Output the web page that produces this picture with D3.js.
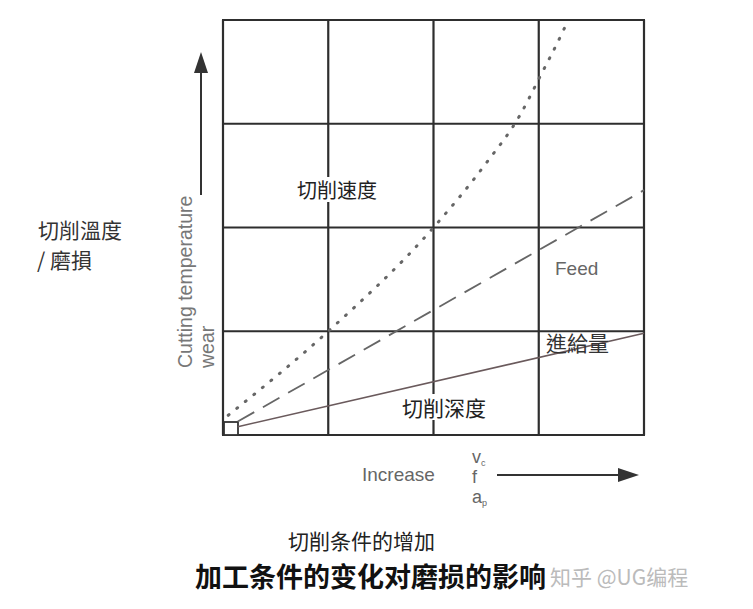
<!DOCTYPE html>
<html>
<head>
<meta charset="utf-8">
<script src="https://cdn.jsdelivr.net/npm/d3@7/dist/d3.min.js"></script>
<style>
  html, body { margin: 0; padding: 0; background: #fff; }
  svg { display: block; }
</style>
</head>
<body>
<svg id="chart" width="753" height="609"></svg>
<script>
// ---- data (grid units: 4 x 4 cells) ----
const gridX = [0, 1, 2, 3, 4];
const gridY = [0, 1, 2, 3, 4];
// cutting speed (dotted, curving upward)
const speedX = [0.05, 1.0, 2.0, 2.5, 2.82, 3.01, 3.22, 3.28];
const speedY = [0.19, 1.0, 2.0, 2.62, 3.08, 3.45, 3.87, 4.0];
// feed (dashed, straight)
const feedX = [0.14, 4.0];
const feedY = [0.13, 2.36];
// depth of cut (solid, straight)
const depthX = [0.14, 4.0];
const depthY = [0.08, 0.98];
// increase labels
const incLabels = [["v", "c"], ["f", ""], ["a", "p"]];

const svg = d3.select("#chart");
const x = d3.scaleLinear().domain([0, 4]).range([223, 644]);
const y = d3.scaleLinear().domain([0, 4]).range([435, 20]);

const cjk = "'Noto Sans CJK SC', 'Noto Sans CJK TC', sans-serif";
const cjkTC = "'Noto Sans CJK TC', 'Noto Sans CJK SC', sans-serif";
const latin = "'Liberation Sans', Arial, sans-serif";

// grid
const g = svg.append("g");
g.selectAll("line.v").data(gridX).enter().append("line")
  .attr("x1", d => x(d)).attr("x2", d => x(d))
  .attr("y1", y(0)).attr("y2", y(4))
  .attr("stroke", "#2e2e2e").attr("stroke-width", 2.2);
g.selectAll("line.h").data(gridY).enter().append("line")
  .attr("y1", d => y(d)).attr("y2", d => y(d))
  .attr("x1", x(0) - 1).attr("x2", x(4) + 1)
  .attr("stroke", "#2e2e2e").attr("stroke-width", 2.2);

// origin square
g.append("rect")
  .attr("x", x(0) + 1).attr("y", y(0) - 13)
  .attr("width", 14).attr("height", 13)
  .attr("fill", "#fff").attr("stroke", "#333").attr("stroke-width", 1.8);

const line = d3.line().x(d => x(d[0])).y(d => y(d[1]));

// depth (solid)
g.append("path")
  .datum(d3.zip(depthX, depthY))
  .attr("d", line)
  .attr("fill", "none").attr("stroke", "#6a5a5c").attr("stroke-width", 1.6);

// feed (dashed)
g.append("path")
  .datum(d3.zip(feedX, feedY))
  .attr("d", line)
  .attr("fill", "none").attr("stroke", "#666").attr("stroke-width", 1.8)
  .attr("stroke-dasharray", "19,10");

// speed (dotted)
g.append("path")
  .datum(d3.zip(speedX, speedY))
  .attr("d", line.curve(d3.curveMonotoneX))
  .attr("fill", "none").attr("stroke", "#666").attr("stroke-width", 3)
  .attr("stroke-linecap", "round")
  .attr("stroke-dasharray", "1,10");

// in-plot labels
function label(txt, px, py, size, color, font, bg) {
  const t = svg.append("text")
    .attr("x", px).attr("y", py)
    .attr("font-family", font).attr("font-size", size)
    .attr("fill", color).text(txt);
  if (bg) {
    const b = t.node().getBBox();
    svg.insert("rect", "text")
      .attr("x", b.x - 2).attr("y", b.y + 2).attr("width", b.width + 4).attr("height", b.height - 4)
      .attr("fill", "#fff");
  }
  return t;
}
label("切削速度", 297, 198, 20, "#222", cjk, true);
label("Feed", 555, 275, 19, "#666", latin, false);
label("進給量", 546, 351, 21, "#333", cjkTC, false);
label("切削深度", 402, 416, 21, "#222", cjk, true);

// y axis arrow
svg.append("line").attr("x1", 201).attr("x2", 201).attr("y1", 195).attr("y2", 68)
  .attr("stroke", "#333").attr("stroke-width", 2);
svg.append("path").attr("d", "M201,52 L194,73 L208,73 Z").attr("fill", "#333");

// rotated axis text
svg.append("text")
  .attr("transform", "translate(192,368) rotate(-90)")
  .attr("font-family", latin).attr("font-size", 19.5).attr("fill", "#777")
  .text("Cutting temperature");
svg.append("text")
  .attr("transform", "translate(214,368) rotate(-90)")
  .attr("font-family", latin).attr("font-size", 19.5).attr("fill", "#777")
  .text("wear");

// left Chinese label
label("切削溫度", 38, 238, 21, "#333", cjkTC, false);
label("/ 磨損", 37, 268, 21, "#333", cjkTC, false);

// bottom increase
label("Increase", 362, 481, 19, "#666", latin, false);
const inc = svg.append("g");
incLabels.forEach((l, i) => {
  const t = inc.append("text")
    .attr("x", 472).attr("y", 463 + i * 20)
    .attr("font-family", latin).attr("font-size", 18).attr("fill", "#666");
  t.append("tspan").text(l[0]);
  if (l[1]) t.append("tspan").attr("font-size", 9).attr("dy", 3).text(l[1]);
});
svg.append("line").attr("x1", 497).attr("x2", 622).attr("y1", 475).attr("y2", 475)
  .attr("stroke", "#333").attr("stroke-width", 2);
svg.append("path").attr("d", "M639,475 L618,468 L618,482 Z").attr("fill", "#333");

// captions
label("切削条件的增加", 288, 549, 21, "#222", cjk, false);
svg.append("text").attr("x", 195).attr("y", 587)
  .attr("font-family", cjk).attr("font-size", 27).attr("font-weight", "bold")
  .attr("fill", "#111").text("加工条件的变化对磨损的影响");
svg.append("text").attr("x", 550).attr("y", 585)
  .attr("font-family", cjk).attr("font-size", 21).attr("fill", "#bbb")
  .text("知乎 @UG编程");
</script>
</body>
</html>
